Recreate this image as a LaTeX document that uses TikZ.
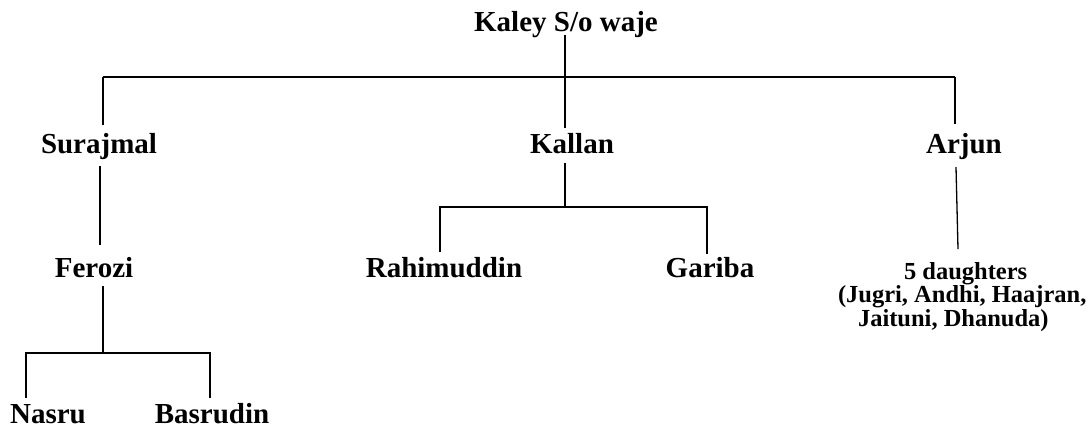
\documentclass[tikz,border=0pt]{standalone}
\usepackage{fontspec}
\setmainfont{Liberation Serif}
\begin{document}
\begin{tikzpicture}[x=1pt,y=-1pt,
  every node/.style={inner sep=0pt,outer sep=0pt,anchor=base},
  person/.style={font=\fontsize{29}{34}\selectfont\bfseries},
  smalltext/.style={font=\fontsize{24.5}{22.5}\selectfont\bfseries,anchor=base west},
  link/.style={line width=1.3pt,black}]
\useasboundingbox (0,0) rectangle (1089,429);
% people
\node[person] (title)  at (566,31)  {Kaley S/o waje};
\node[person] (suraj)  at (99,153)  {Surajmal};
\node[person] (kallan) at (572,153) {Kallan};
\node[person] (arjun)  at (964,153) {Arjun};
\node[person] (ferozi) at (94,277)  {Ferozi};
\node[person] (rahim)  at (444,277) {Rahimuddin};
\node[person] (gariba) at (710,277) {Gariba};
\node[person] (nasru)  at (48,423)  {Nasru};
\node[person] (basru)  at (212,423) {Basrudin};
\node[smalltext] (daught) at (838,279) {\renewcommand\arraystretch{1}\begin{tabular}[t]{@{}l@{}}\hspace*{66pt}5 daughters\\(Jugri, Andhi, Haajran,\\\hspace*{20pt}Jaituni, Dhanuda)\end{tabular}};
% junction points
\coordinate (t0) at (565,35);
\coordinate (j0) at (565,77);
\coordinate (jl) at (103,77);
\coordinate (jr) at (955,77);
\coordinate (k0) at (565,128);
\coordinate (s0) at (103,125);
\coordinate (a0) at (955,124);
\coordinate (s1) at (100,166);
\coordinate (f0) at (100,245);
\coordinate (f1) at (103,286);
\coordinate (f2) at (103,353);
\coordinate (fl) at (26,353);
\coordinate (fr) at (210,353);
\coordinate (n0) at (26,398);
\coordinate (b0) at (210,398);
\coordinate (k1) at (565,163);
\coordinate (k2) at (565,207);
\coordinate (kl) at (440,207);
\coordinate (kr) at (707,207);
\coordinate (r0) at (440,252);
\coordinate (g0) at (707,254);
\coordinate (a1) at (956,167);
\coordinate (d0) at (958,249);
% connectors
\draw[link] (t0) -- (k0);
\draw[link] (jl) -- (jr);
\draw[link] (jl) -- (s0);
\draw[link] (jr) -- (a0);
\draw[link] (s1) -- (f0);
\draw[link] (f1) -- (f2);
\draw[link] (n0) -- (fl) -- (fr) -- (b0);
\draw[link] (k1) -- (k2);
\draw[link] (r0) -- (kl) -- (kr) -- (g0);
\draw[link] (a1) -- (d0);
\end{tikzpicture}
\end{document}
